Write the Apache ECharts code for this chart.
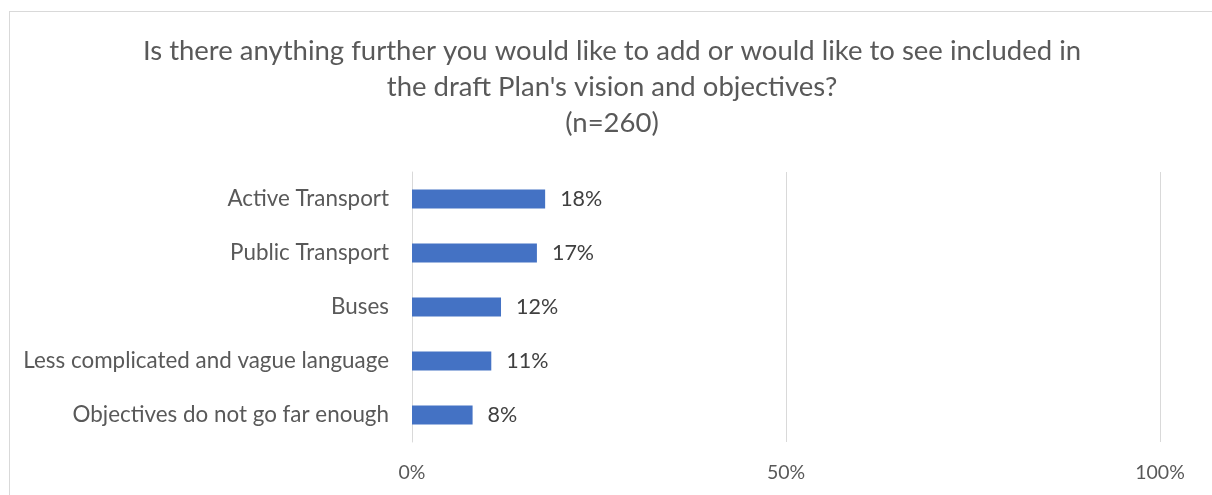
<!DOCTYPE html>
<html><head><meta charset="utf-8">
<script src="https://cdn.jsdelivr.net/npm/echarts@6/dist/echarts.min.js"></script>
<style>
html,body{margin:0;padding:0;background:#fff;}
#frame{position:absolute;left:9px;top:11px;width:1220px;height:500px;border:1px solid #d9d9d9;box-sizing:border-box;}
#c{position:absolute;left:0;top:0;width:1212px;height:495px;}
</style></head>
<body>
<div id="frame"></div>
<div id="c"></div>
<script>
const categories = ["Active Transport","Public Transport","Buses","Less complicated and vague language","Objectives do not go far enough"];
const values = [17.8, 16.7, 11.9, 10.6, 8.1];
const titleLines = ["Is there anything further you would like to add or would like to see included in","the draft Plan's vision and objectives?","(n=260)"];
const xTicks = [0, 50, 100];

const FONT = "Lato, 'Open Sans', sans-serif";
const chart = echarts.init(document.getElementById('c'), null, {renderer:'canvas'});
chart.setOption({
  animation:false,
  backgroundColor:'transparent',
  title:{
    text:titleLines.join('\n'),
    left:607, top:28, textAlign:'center',
    textStyle:{fontFamily:FONT,fontSize:27.5,fontWeight:'normal',color:'#595959',lineHeight:36}
  },
  grid:{left:412,right:52,top:172,height:270,containLabel:false},
  xAxis:{
    type:'value',min:xTicks[0],max:xTicks[xTicks.length-1],interval:xTicks[1]-xTicks[0],
    axisLine:{show:false},axisTick:{show:false},
    splitLine:{show:true,lineStyle:{color:'#d9d9d9',width:1}},
    axisLabel:{formatter:v=>v+'%',fontFamily:FONT,fontSize:19.5,color:'#595959',margin:21}
  },
  yAxis:{
    type:'category',data:categories,inverse:true,
    axisLine:{show:true,lineStyle:{color:'#d9d9d9',width:1}},axisTick:{show:false},
    axisLabel:{fontFamily:FONT,fontSize:22.4,color:'#595959',margin:23}
  },
  series:[{
    type:'bar',data:values,barWidth:19,
    itemStyle:{color:'#4472c4'},
    label:{show:true,position:'right',distance:15,formatter:p=>Math.round(p.value)+'%',
      fontFamily:FONT,fontSize:21.5,color:'#404040'}
  }]
});
</script>
</body></html>
